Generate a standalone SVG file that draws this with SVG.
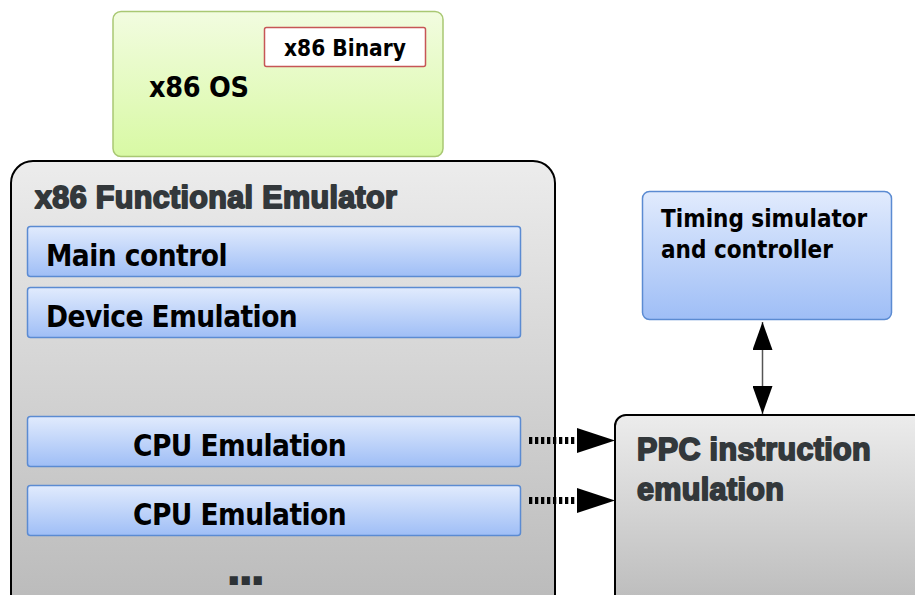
<svg xmlns="http://www.w3.org/2000/svg" width="915" height="595" viewBox="0 0 915 595">
  <defs>
    <linearGradient id="gGreen" x1="0" y1="0" x2="0" y2="1">
      <stop offset="0" stop-color="#f2fce0"/>
      <stop offset="1" stop-color="#d8f9a4"/>
    </linearGradient>
    <linearGradient id="gGray" x1="0" y1="0" x2="0" y2="1">
      <stop offset="0" stop-color="#ececec"/>
      <stop offset="1" stop-color="#b9b9b9"/>
    </linearGradient>
    <linearGradient id="gBlue" x1="0" y1="0" x2="0" y2="1">
      <stop offset="0" stop-color="#e1ebfd"/>
      <stop offset="1" stop-color="#9fbef6"/>
    </linearGradient>
    <marker id="triV" viewBox="0 0 28 20" refX="28" refY="10" markerWidth="28" markerHeight="20" markerUnits="userSpaceOnUse" orient="auto-start-reverse">
      <path d="M0,0 L28,10 L0,20 Z" fill="#000"/>
    </marker>
  </defs>
  <style>
    .lbl { font-family: "DejaVu Sans Condensed", "DejaVu Sans", sans-serif; font-stretch: condensed; font-weight: bold; fill: #000; }
    .big { font-size: 29.5px; letter-spacing: -0.55px; }
    .hdr { font-family: "Liberation Sans", Arial, sans-serif; font-weight: bold; fill: #33383b; stroke: #33383b; stroke-width: 1.8; stroke-linejoin: round; font-size: 30.5px; letter-spacing: 0.35px; }
    .blue { fill: url(#gBlue); stroke: #5b8bd2; stroke-width: 1.5; }
    .gray { fill: url(#gGray); stroke: #000; stroke-width: 2; }
    .dots { fill: none; stroke: #000; stroke-width: 7; stroke-dasharray: 3.3 2.7; }
  </style>

  <rect width="915" height="595" fill="#fff"/>

  <g id="x86-os">
    <rect x="113" y="11.5" width="330" height="145" rx="8" fill="url(#gGreen)" stroke="#a9c873" stroke-width="1.5"/>
    <text class="lbl" x="149" y="97" font-size="28.5" letter-spacing="-0.3">x86 OS</text>
  </g>

  <g id="x86-binary">
    <rect x="264.5" y="27.5" width="161" height="39" rx="2" fill="#fff" stroke="#c65656" stroke-width="1.5"/>
    <text class="lbl" x="345" y="56" font-size="22.5" text-anchor="middle">x86 Binary</text>
  </g>

  <g id="functional-emulator">
    <rect x="11" y="161" width="544" height="460" rx="22" class="gray"/>
    <text class="hdr" x="35" y="208">x86 Functional Emulator</text>
  </g>

  <g id="main-control">
    <rect x="27.5" y="226.5" width="493" height="50" rx="3" class="blue"/>
    <text class="lbl big" x="46" y="266">Main control</text>
  </g>

  <g id="device-emulation">
    <rect x="27.5" y="287.5" width="493" height="50" rx="3" class="blue"/>
    <text class="lbl big" x="46" y="327">Device Emulation</text>
  </g>

  <g id="cpu-emulation-1">
    <rect x="27.5" y="416.5" width="493" height="50" rx="3" class="blue"/>
    <text class="lbl big" x="133" y="456">CPU Emulation</text>
  </g>

  <g id="cpu-emulation-2">
    <rect x="27.5" y="485.5" width="493" height="50" rx="3" class="blue"/>
    <text class="lbl big" x="133" y="525">CPU Emulation</text>
  </g>

  <g id="more-cpus">
    <text x="225" y="585" font-family="DejaVu Sans, sans-serif" font-weight="bold" font-size="46" letter-spacing="-5.5" fill="#2d3236">...</text>
  </g>

  <g id="timing-simulator">
    <rect x="642.5" y="191.5" width="249" height="128" rx="7" class="blue"/>
    <text class="lbl" x="661" y="227" font-size="24">Timing simulator</text>
    <text class="lbl" x="661" y="258" font-size="24">and controller</text>
  </g>

  <g id="ppc-emulation">
    <rect x="615" y="415" width="330" height="200" rx="11" class="gray"/>
    <text class="hdr" x="637" y="460">PPC instruction</text>
    <text class="hdr" x="637" y="500">emulation</text>
  </g>

  <g id="connectors">
    <line x1="762.5" y1="322" x2="762.5" y2="414" stroke="#555" stroke-width="1.5" marker-start="url(#triV)" marker-end="url(#triV)"/>
    <line class="dots" x1="529" y1="440.5" x2="575" y2="440.5"/>
    <path d="M577,428 L615,440.5 L577,453 Z" fill="#000"/>
    <line class="dots" x1="529" y1="500.5" x2="575" y2="500.5"/>
    <path d="M577,488 L615,500.5 L577,513 Z" fill="#000"/>
  </g>
</svg>
